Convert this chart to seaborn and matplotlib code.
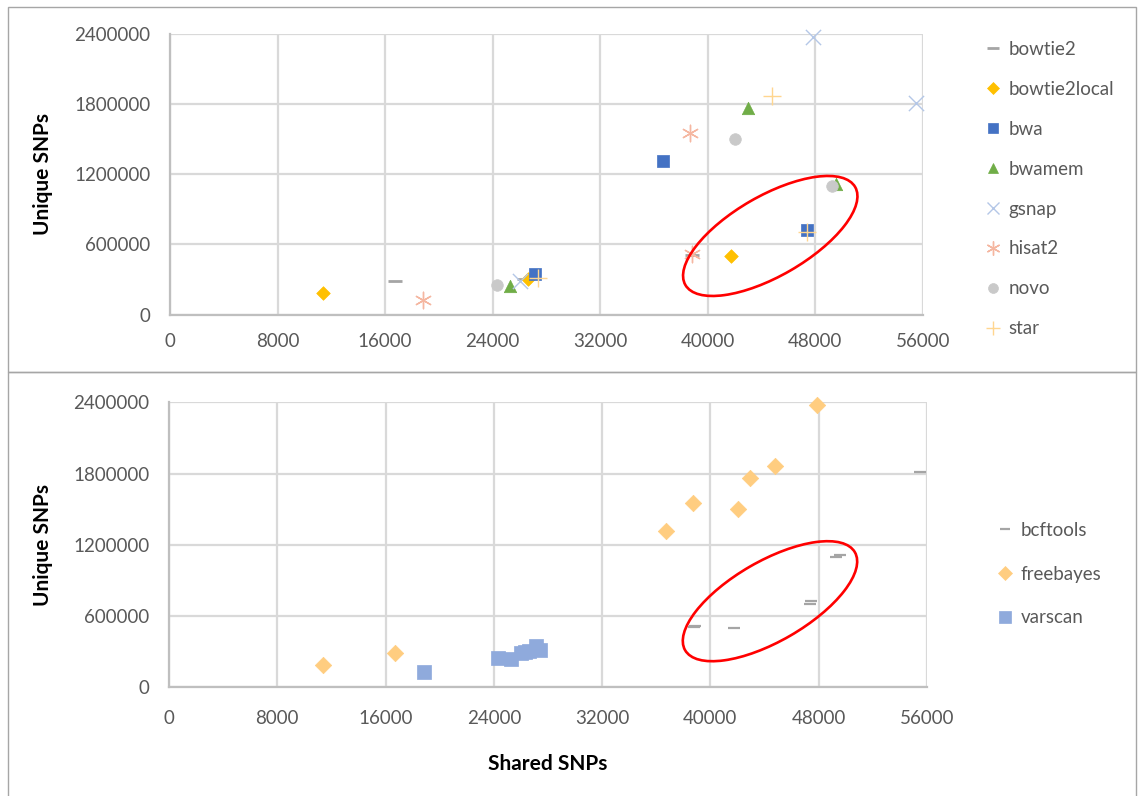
import numpy as np
import pandas as pd
import seaborn as sns
import matplotlib
matplotlib.use("Agg")
import matplotlib.pyplot as plt
from matplotlib.patches import Ellipse, Rectangle
from matplotlib.lines import Line2D
from matplotlib.transforms import IdentityTransform

# ---------------- data ----------------
aligners = ["bowtie2", "bowtie2local", "bwa", "bwamem", "gsnap", "hisat2", "novo", "star"]
callers = ["bcftools", "freebayes", "varscan"]

shared_freebayes = [16700, 11400, 36700, 42950, 47850, 38700, 42050, 44800]
unique_freebayes = [290000, 185000, 1315000, 1765000, 2375000, 1550000, 1505000, 1866000]
shared_varscan = [26300, 26600, 27150, 25250, 26000, 18850, 24300, 27400]
unique_varscan = [300000, 305000, 350000, 240000, 290000, 128000, 250000, 312000]
shared_bcftools = [38800, 41750, 47400, 49550, 55500, 38850, 49250, 47350]
unique_bcftools = [512000, 500000, 725000, 1118000, 1810000, 515000, 1100000, 702000]

x_ticks = [0, 8000, 16000, 24000, 32000, 40000, 48000, 56000]
y_ticks = [0, 600000, 1200000, 1800000, 2400000]

rows = []
for caller, xs, ys in [("freebayes", shared_freebayes, unique_freebayes),
                       ("varscan", shared_varscan, unique_varscan),
                       ("bcftools", shared_bcftools, unique_bcftools)]:
    for a, x, y in zip(aligners, xs, ys):
        rows.append({"aligner": a, "caller": caller, "shared": x, "unique": y})
df = pd.DataFrame(rows)

# ---------------- styles ----------------
sns.set_style("white")
plt.rcParams["font.family"] = ["Lato", "DejaVu Sans"]

TXT = "#595959"
GRID = "#d9d9d9"

al_style = {
    "bowtie2":      dict(marker="_", color="#a5a5a5", s=90, lw=2.0),
    "bowtie2local": dict(marker="D", color="#ffc000", s=48, lw=0.5),
    "bwa":          dict(marker="s", color="#4472c4", s=70, lw=0.5),
    "bwamem":       dict(marker="^", color="#70ad47", s=80, lw=0.5),
    "gsnap":        dict(marker="x", color="#b4c7e7", s=120, lw=1.0),
    "hisat2":       dict(marker=(6, 2, 0), color="#f5b7a1", s=140, lw=1.0),
    "novo":         dict(marker="o", color="#c9c9c9", s=70, lw=0.5),
    "star":         dict(marker="+", color="#ffd68f", s=150, lw=1.0),
}
ca_style = {
    "bcftools":  dict(marker="_", color="#a5a5a5", s=80, lw=1.6),
    "freebayes": dict(marker="D", color="#ffcd80", s=70, lw=0.5),
    "varscan":   dict(marker="s", color="#8faadc", s=110, lw=0.5),
}

fig = plt.figure(figsize=(11.38, 7.96), dpi=100)

# panel frames
fig.patches.append(Rectangle((8 / 1138, (796 - 372) / 796), 1128 / 1138, (372 - 7) / 796,
                             transform=fig.transFigure, fill=False, edgecolor="#a6a6a6", lw=1))
fig.patches.append(Rectangle((8 / 1138, -0.01), 1128 / 1138, (796 - 372) / 796 + 0.01,
                             transform=fig.transFigure, fill=False, edgecolor="#a6a6a6", lw=1))

ax1 = fig.add_axes([170 / 1138, 1 - 314.5 / 796, 753 / 1138, 280.5 / 796])
ax2 = fig.add_axes([169 / 1138, 1 - 687.3 / 796, 758 / 1138, 285 / 796])


def draw(ax, col, order, styles):
    for name in order:
        st = styles[name]
        sub = df[df[col] == name]
        filled = st["marker"] in ("D", "s", "^", "o")
        kw = dict(marker=st["marker"], s=st["s"], linewidth=st["lw"], legend=False, zorder=3)
        if filled:
            kw.update(color=st["color"], edgecolor=st["color"])
        else:
            kw.update(color=st["color"])
        sns.scatterplot(data=sub, x="shared", y="unique", ax=ax, **kw)
    for coll in ax.collections:
        coll.set_clip_on(False)


def style_axes(ax, xpad):
    ax.set_xlim(0, 56000)
    ax.set_ylim(0, 2400000)
    ax.set_xticks(x_ticks)
    ax.set_yticks(y_ticks)
    ax.set_xticklabels([str(v) for v in x_ticks])
    ax.set_yticklabels([str(v) for v in y_ticks])
    ax.grid(True, color=GRID, lw=1.6, zorder=0)
    ax.set_axisbelow(True)
    for s in ["top", "right"]:
        ax.spines[s].set_visible(False)
    for s in ["left", "bottom"]:
        ax.spines[s].set_color("#bfbfbf")
        ax.spines[s].set_linewidth(1.6)
    ax.tick_params(axis="both", length=0, labelsize=13.5, labelcolor=TXT)
    ax.tick_params(axis="y", pad=14)
    ax.tick_params(axis="x", pad=xpad)
    ax.set_xlabel("")
    ax.set_ylabel("Unique SNPs", fontsize=15, fontweight="bold", color="black")


draw(ax1, "aligner", aligners, al_style)
draw(ax2, "caller", ["bcftools", "freebayes", "varscan"], ca_style)
style_axes(ax1, 13)
style_axes(ax2, 16)
ax1.yaxis.set_label_coords(-0.155, 0.5)
ax2.yaxis.set_label_coords(-0.153, 0.5)
ax2.set_xlabel("Shared SNPs", fontsize=15, fontweight="bold", color="black")
ax2.xaxis.set_label_coords(0.5, -0.235)


def legend_handles(order, styles):
    hs = []
    for name in order:
        st = styles[name]
        filled = st["marker"] in ("D", "s", "^", "o")
        ms = np.sqrt(st["s"]) * 0.85
        hs.append(Line2D([], [], linestyle="None", marker=st["marker"], markersize=ms,
                         color=st["color"], markeredgecolor=st["color"],
                         markeredgewidth=st["lw"] if not filled else 0.5, label=name))
    return hs


leg1 = fig.legend(handles=legend_handles(aligners, al_style), loc="upper left",
                  bbox_to_anchor=(985 / 1138, 1 - 41 / 796), frameon=False,
                  fontsize=13.5, labelcolor=TXT, handlelength=0.9, handletextpad=0.35,
                  labelspacing=1.22, borderpad=0, borderaxespad=0)
leg2 = fig.legend(handles=legend_handles(["bcftools", "freebayes", "varscan"], ca_style),
                  loc="upper left", bbox_to_anchor=(997 / 1138, 1 - 522 / 796), frameon=False,
                  fontsize=13.5, labelcolor=TXT, handlelength=0.9, handletextpad=0.35,
                  labelspacing=1.42, borderpad=0, borderaxespad=0)

# red ellipses highlighting region
fig.canvas.draw()
for ax, cx, cy in [(ax1, 44640, 672000), (ax2, 44400, 725000)]:
    px, py = ax.transData.transform((cx, cy))
    e = Ellipse((px, py), width=196, height=80, angle=30, transform=IdentityTransform(),
                fill=False, edgecolor="#ff0000", lw=1.9, zorder=5)
    fig.add_artist(e)

fig.savefig("out.png", dpi=100)
